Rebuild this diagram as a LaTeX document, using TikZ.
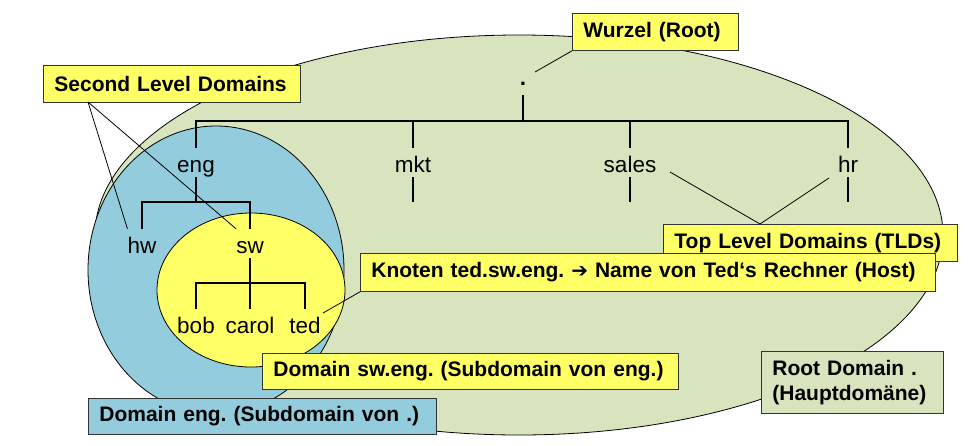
\documentclass[tikz,border=0pt]{standalone}
\usepackage{fontspec}
\setmainfont{Liberation Sans}
\newfontfamily\arrowfont{DejaVu Sans}
\frenchspacing
\definecolor{rootgreen}{HTML}{D7E4BD}
\definecolor{engblue}{HTML}{93CDDD}
\definecolor{swyellow}{HTML}{FFFF66}
\tikzset{ lbl/.style = { anchor = base % tree label
, inner sep = 0pt
, text height = 24pt
, text depth = 5pt
, font = \fontsize{22.5}{27}\selectfont
}
, callout/.style = { rectangle % note box
, draw = black!80
, line width = 0.8pt
, fill = swyellow
, anchor = north west
, align = left
, inner xsep = 11pt
, inner ysep = 2pt
, minimum height = 37pt
, font = \fontsize{21}{25}\selectfont\bfseries
}
, zone/.style = { draw = black % domain area
, line width = 0.8pt
}
}

\begin{document}
\begin{tikzpicture}[x=1pt, y=-1pt,
        tree/.style={draw=black, line width=1.8pt},
        pinline/.style={draw=black, line width=0.8pt}]
    \useasboundingbox (0,0) rectangle (973,445);

    % domains
    \draw [zone, fill=rootgreen] (519,235) ellipse [x radius=424pt, y radius=200pt];
    \draw [zone, fill=engblue] (216,270) ellipse [x radius=128pt, y radius=144pt];
    \draw [zone, fill=swyellow] (251,290) ellipse [x radius=94pt, y radius=77pt];

    % tree
    \node [lbl, font=\fontsize{22.5}{27}\selectfont\bfseries] (root) at (523,85) {.};
    \node [lbl] (eng) at (196,172) {eng};
    \node [lbl] (mkt) at (413,172) {mkt};
    \node [lbl] (sales) at (630,172) {sales};
    \node [lbl] (hr) at (848,172) {hr};
    \node [lbl] (hw) at (142,253) {hw};
    \node [lbl] (sw) at (250,253) {sw};
    \node [lbl] (bob) at (196,333) {bob};
    \node [lbl] (carol) at (250,333) {carol};
    \node [lbl] (ted) at (305,333) {ted};

    \coordinate (top) at (523,121);
    \coordinate (engbar) at (196,202);
    \coordinate (swbar) at (250,283);
    \draw [tree, shorten <=5pt] (root.south) -- (top);
    \draw [tree] (eng.north) |- (top) -| (hr.north);
    \draw [tree] (mkt.north) -- (mkt.north |- top);
    \draw [tree] (sales.north) -- (sales.north |- top);
    \draw [tree] (mkt.south) -- ++(0,25);
    \draw [tree] (sales.south) -- ++(0,25);
    \draw [tree] (hr.south) -- ++(0,25);
    \draw [tree] (eng.south) -- (engbar);
    \draw [tree] (hw.north) |- (engbar) -| (sw.north);
    \draw [tree] (sw.south) -- (carol.north);
    \draw [tree] (bob.north) |- (swbar) -| (ted.north);

    % notes
    \node [callout, text width=144pt] (wurzel) at (572,13) {Wurzel (Root)};
    \node [callout, text width=235pt] (sld) at (43,65) {Second Level Domains};
    \node [callout, text width=272pt] (tlds) at (663,224) {Top Level Domains (TLDs)};
    \node [callout, text width=553pt, minimum height=38pt] (knoten) at (360,253) {Knoten ted.sw.eng. {\arrowfont\fontsize{20}{25}\selectfont ➔} Name von Ted‘s Rechner (Host)};
    \node [callout, text width=394pt, minimum height=36pt] (swdom) at (262,353) {Domain sw.eng. (Subdomain von eng.)};
    \node [callout, text width=326pt, minimum height=36pt, fill=engblue] (engdom) at (88,398) {Domain eng. (Subdomain von .)};
    \node [callout, text width=160pt, minimum height=62pt, fill=rootgreen] (rootdom) at (761,351) {Root Domain .\\(Hauptdomäne)};

    \coordinate (rootpin) at (535,72);
    \coordinate (sldpin) at (88,102);
    \coordinate (tldpin) at (760,224);
    \coordinate (salespin) at (670,172);
    \coordinate (hrpin) at (829,178);
    \coordinate (tedpin) at (323,313);
    \draw [pinline] (wurzel.south west) -- (rootpin);
    \draw [pinline] (sldpin) -- (hw.north west);
    \draw [pinline] (sldpin) -- (sw.north west);
    \draw [pinline] (tldpin) -- (salespin);
    \draw [pinline] (tldpin) -- (hrpin);
    \draw [pinline] (knoten.south west) -- (tedpin);
\end{tikzpicture}
\end{document}
